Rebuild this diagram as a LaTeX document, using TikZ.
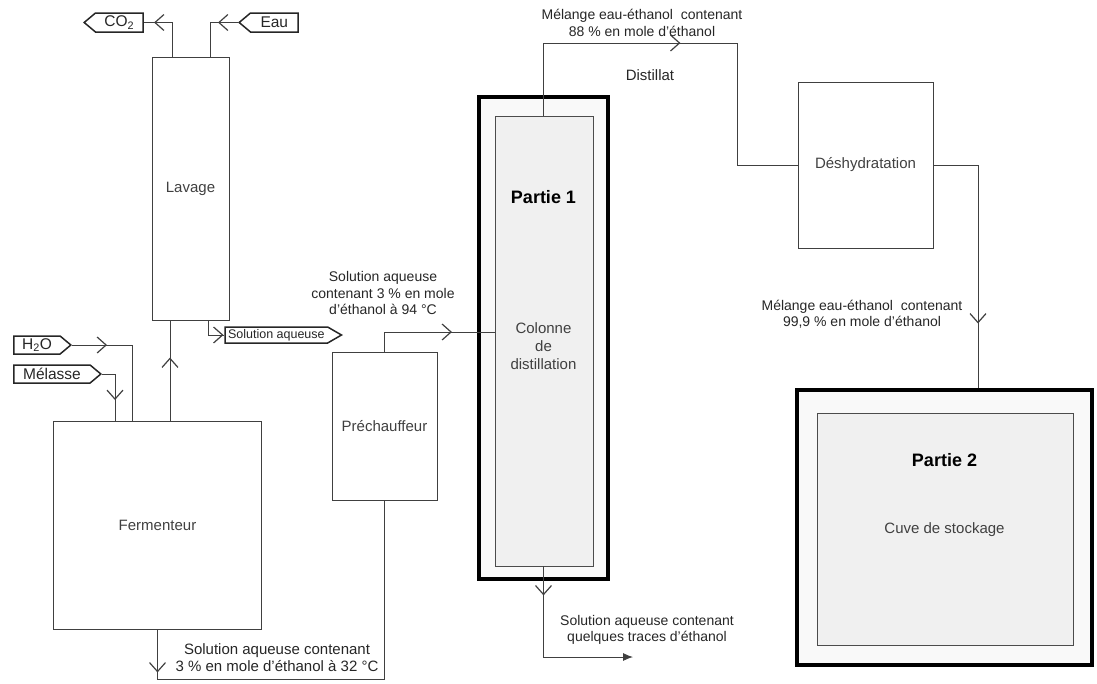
\documentclass[tikz,border=0pt]{standalone}
\usepackage{fontspec}
\setmainfont{Liberation Sans}
\usetikzlibrary{shapes.symbols,arrows.meta,decorations.markings,calc}
\tikzstyle{line} = [draw, black!75, line width=0.9pt]
\tikzstyle{block} = [draw, black!75, rectangle, line width=0.9pt, text centered, font=\fontsize{15}{18}\selectfont]
\tikzstyle{tag} = [draw, black!85, signal, line width=1.5pt, signal pointer angle=80, minimum height=19pt, inner xsep=3pt, inner ysep=0pt, font=\fontsize{15.5}{17}\selectfont]
\tikzstyle{flowtext} = [align=center, text=black!85, font=\fontsize{14}{16.5}\selectfont]
\tikzstyle{part} = [draw, line width=4.5pt, fill=gray!5]
\tikzstyle{partin} = [draw, gray!60!black, line width=0.8pt, fill=gray!12]
\tikzstyle{parttitle} = [font=\bfseries\fontsize{18}{20}\selectfont]
\tikzset{chevron/.style={postaction={decorate}, decoration={markings,
    mark=at position #1 with {\arrow{Straight Barb[length=9pt, width=16pt, line width=1.2pt]}}}}}

\begin{document}
\begin{tikzpicture}[x=1pt, y=-1pt]
        \useasboundingbox (0,0) rectangle (1097,683);
        % appareils
        \node[block, minimum width=77pt, minimum height=263pt] (lavage) at (190.5,188.5) {Lavage};
        \node[block, minimum width=208pt, minimum height=208pt] (ferm) at (157.5,525) {Fermenteur};
        \node[block, minimum width=105pt, minimum height=148pt] (prech) at (384.5,426) {Préchauffeur};
        \node[block, minimum width=135pt, minimum height=166pt] (deshy) at (865.5,165) {Déshydratation};
        \node[part, minimum width=129pt, minimum height=482pt] (col) at (543.5,338) {};
        \node[partin, minimum width=98pt, minimum height=450pt] (colin) at (544,341) {};
        \node[parttitle] (p1) at (543.5,197) {Partie 1};
        \node[block, draw=none, align=center] (coltext) at (543.5,346) {Colonne\\de\\distillation};
        \node[part, minimum width=295pt, minimum height=275pt] (part2) at (944.5,527.5) {};
        \node[partin, minimum width=256pt, minimum height=232pt] (part2in) at (945,529) {};
        \node[parttitle] (p2) at (944.5,460) {Partie 2};
        \node[block, draw=none] (cuve) at (944.5,530) {Cuve de stockage};
        % entrees et sorties
        \node[tag, signal to=west, anchor=west, minimum width=59pt] (co2) at (83,22.5) {CO\textsubscript{2}};
        \node[tag, signal to=west, anchor=west, minimum width=59pt] (eau) at (238,22.5) {Eau};
        \node[tag, signal to=east, anchor=east, minimum width=57pt, minimum height=18pt] (h2o) at (72,345) {H\textsubscript{2}O};
        \node[tag, signal to=east, anchor=east, minimum width=87pt, minimum height=18pt] (mel) at (102,374) {Mélasse};
        \node[tag, signal to=east, anchor=east, signal pointer angle=60, minimum width=115pt, minimum height=16pt,
              font=\fontsize{12.5}{14}\selectfont] (sol) at (343,335) {Solution aqueuse};
        \coordinate (distcorner) at (737,43);
        \coordinate (residu) at (633,657);
        % courants
        \path[line, chevron=52pt] ([xshift=-18.5pt]lavage.north) |- (co2.east);
        \path[line, chevron=20pt] (eau.west) -| ([xshift=20pt]lavage.north);
        \path[line, chevron=30pt] ([xshift=17.5pt]lavage.south) |- (sol.west);
        \path[line, chevron=63pt] ([xshift=12.5pt]ferm.north) -- ([xshift=12.5pt]ferm.north |- lavage.south);
        \path[line, chevron=35pt] (h2o.east) -| ([xshift=-25.5pt]ferm.north);
        \path[line, chevron=39pt] (mel.east) -| ([xshift=-42.5pt]ferm.north);
        \path[line, chevron=43pt] (ferm.south) -- ++(0,50) -| (prech.south);
        \path[line, chevron=87pt] (prech.north) |- ([yshift=9pt]colin.west);
        \path[line, chevron=209.5pt] (col.center |- colin.north) |- (distcorner) |- (deshy.west);
        \path[line, chevron=203pt] (deshy.east) -| ([xshift=33.5pt]part2.north);
        \path[line, chevron=29pt, -{Latex[length=10pt, width=8pt]}] (col.center |- colin.south) |- (residu);
        % textes des courants
        \node[flowtext] (t94) at (383,293) {Solution aqueuse\\contenant 3 \% en mole\\d'éthanol à 94 °C};
        \node[flowtext] (t88) at (642,23) {Mélange eau-éthanol\ \ contenant\\88 \% en mole d'éthanol};
        \node[flowtext, font=\fontsize{15}{18}\selectfont] (tdist) at (650,75) {Distillat};
        \node[flowtext] (t999) at (862,314) {Mélange eau-éthanol\ \ contenant\\99,9 \% en mole d'éthanol};
        \node[flowtext] (ttrace) at (647,630) {Solution aqueuse contenant\\quelques traces d'éthanol};
        \node[flowtext, font=\fontsize{15}{17}\selectfont] (t32) at (277,658) {Solution aqueuse contenant\\3 \% en mole d'éthanol à 32 °C};
    \end{tikzpicture}
\end{document}
